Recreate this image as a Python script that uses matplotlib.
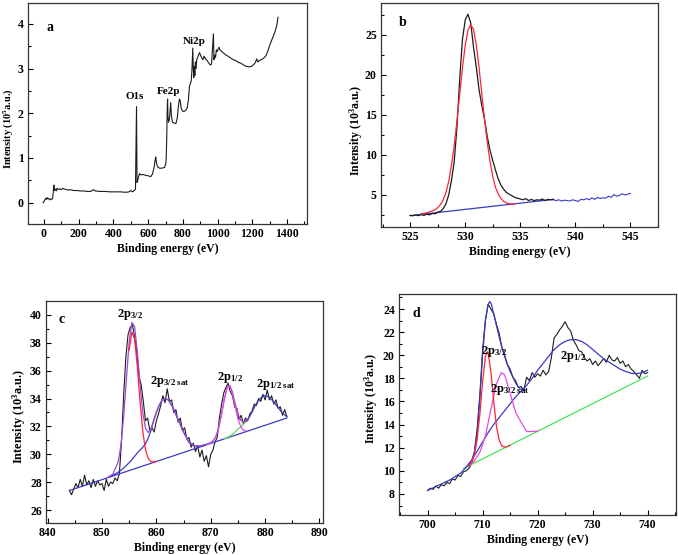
import numpy as np
import matplotlib
matplotlib.use("Agg")
import matplotlib.pyplot as plt
from matplotlib.ticker import MultipleLocator

# -----------------------------------
# FONTS
# -----------------------------------
plt.rcParams['font.family'] = ['Liberation Serif', 'DejaVu Serif']
plt.rcParams['font.weight'] = 'bold'
plt.rcParams['axes.labelweight'] = 'bold'
plt.rcParams['mathtext.fontset'] = 'custom'
plt.rcParams['mathtext.rm'] = 'Liberation Serif:bold'
plt.rcParams['mathtext.it'] = 'Liberation Serif:bold'
plt.rcParams['mathtext.bf'] = 'Liberation Serif:bold'

# -----------------------------------
# (a) SURVEY SPECTRUM  (10^5 a.u.)
# -----------------------------------
a_x = [-5, 0, 5, 10, 15, 20, 25, 30, 35, 40, 45, 50, 54, 57, 60, 65, 70, 75, 80, 90,
       100, 110, 120, 130, 140, 150, 170, 190, 210, 230, 250, 270, 285, 295, 320, 350,
       380, 410, 440, 470, 490, 500, 510, 520, 527, 530, 533, 536, 540, 545, 550, 555,
       560, 570, 585, 600, 615, 625, 635, 640, 644, 648, 655, 665, 680, 695, 703, 707,
       710, 712, 714, 717, 722, 726, 730, 734, 740, 750, 760, 768, 774, 780, 785, 790,
       797, 805, 815, 825, 832, 838, 843, 848, 852, 855, 857, 860, 863, 866, 869, 872,
       876, 880, 885, 890, 896, 902, 908, 915, 922, 930, 940, 950, 958, 965, 970, 973,
       976, 979, 983, 988, 993, 998, 1003, 1008, 1013, 1020, 1030, 1040, 1050, 1060,
       1075, 1090, 1105, 1120, 1135, 1150, 1165, 1180, 1195, 1210, 1218, 1225, 1232,
       1240, 1250, 1260, 1270, 1280, 1290, 1300, 1310, 1320, 1330, 1340, 1348]
a_y = [0.00, 0.02, 0.06, 0.10, 0.07, 0.11, 0.08, 0.09, 0.06, 0.08, 0.07, 0.10, 0.25, 0.39,
       0.27, 0.30, 0.26, 0.32, 0.29, 0.31, 0.29, 0.32, 0.30, 0.29, 0.28, 0.29, 0.27, 0.27,
       0.26, 0.26, 0.25, 0.25, 0.29, 0.26, 0.25, 0.25, 0.24, 0.24, 0.24, 0.23, 0.24, 0.27,
       0.24, 0.27, 0.30, 1.20, 2.15, 0.45, 0.50, 0.58, 0.65, 0.63, 0.62, 0.63, 0.61, 0.60,
       0.58, 0.64, 0.80, 0.95, 1.02, 0.88, 0.80, 0.77, 0.77, 0.79, 0.90, 1.40, 2.10, 2.32,
       1.95, 1.80, 1.85, 2.05, 2.24, 1.95, 1.80, 1.78, 1.77, 1.90, 2.15, 2.32, 2.28, 2.12,
       2.05, 2.04, 2.06, 2.12, 2.30, 2.60, 2.66, 2.72, 2.95, 3.30, 3.46, 3.00, 2.80, 3.05,
       2.85, 3.15, 3.00, 3.20, 3.25, 3.30, 3.36, 3.30, 3.25, 3.20, 3.28, 3.22, 3.18, 3.12,
       3.08, 3.10, 3.40, 3.60, 3.78, 3.20, 3.30, 3.25, 3.42, 3.38, 3.44, 3.48, 3.42, 3.40,
       3.36, 3.33, 3.30, 3.28, 3.24, 3.20, 3.18, 3.14, 3.12, 3.08, 3.05, 3.04, 3.05, 3.10,
       3.14, 3.22, 3.15, 3.18, 3.20, 3.22, 3.25, 3.30, 3.40, 3.52, 3.62, 3.72, 3.82, 3.95,
       4.15]
a_peaks = ["O1s", "Fe2p", "Ni2p"]
a_peak_x = [524, 716, 866]
a_peak_y = [2.38, 2.49, 3.61]

# -----------------------------------
# (b) O1s  (10^3 a.u.)
# -----------------------------------
b_data = [2.45, 2.40, 2.50, 2.42, 2.55, 2.45, 2.60, 2.52, 2.70, 2.65, 2.85, 2.95,
          3.30, 3.90, 5.00, 6.80, 9.20, 13.50, 19.50, 24.50, 26.90, 27.60, 26.50, 23.50,
          21.00, 18.20, 16.20, 14.50, 12.30, 10.60, 9.30, 8.10, 7.00, 6.20, 5.70, 5.30,
          5.10, 4.90, 4.70, 4.60, 4.50, 4.40, 4.55, 4.30, 4.45, 4.30, 4.40, 4.35,
          4.50, 4.30, 4.45, 4.40, 4.45]                      # 525 -> 538 eV
b_tail = [4.40, 4.30, 4.40, 4.25, 4.35, 4.30, 4.25, 4.40, 4.30, 4.20, 4.45, 4.40,
          4.55, 4.40, 4.65, 4.45, 4.70, 4.55, 4.65, 4.60, 4.85, 4.70, 5.05, 4.85,
          4.95, 5.15, 5.00, 5.10, 5.20]                      # 538 -> 545 eV
b_fit = [2.65, 2.70, 2.78, 2.88, 3.00, 3.15, 3.40, 3.80, 4.40, 5.30, 6.70, 8.70,
         11.20, 14.30, 17.60, 20.90, 23.70, 25.60, 26.30, 25.70, 23.80, 21.00, 17.70,
         14.50, 11.60, 9.20, 7.30, 5.95, 5.10, 4.55, 4.20, 4.00, 3.90, 3.88, 3.90]  # 526 -> 534.5 eV
b_bg_x = [525, 538]
b_bg_y = [2.42, 4.45]

# -----------------------------------
# (c) Ni2p  (10^3 a.u.)
# -----------------------------------
c_data = [27.4, 27.1, 27.5, 27.9, 27.6, 28.2, 27.7, 28.5, 27.8, 28.1, 27.6, 28.2, 27.7,
          28.1, 27.8, 27.9, 27.4, 28.2, 27.7, 28.0, 27.9, 28.3, 28.1, 28.6, 31.0, 34.3,
          37.0, 38.6, 39.1, 39.3, 38.4, 37.3, 35.6, 35.0, 33.8, 32.4, 32.6, 31.7, 31.9,
          31.6, 32.4, 32.9, 33.5, 34.2, 33.7, 34.7, 33.8, 33.9, 33.0, 33.2, 32.3, 32.6,
          31.7, 31.9, 31.1, 31.2, 30.5, 30.8, 30.2, 30.6, 29.8, 30.3, 29.5, 29.9, 29.1,
          30.0, 30.3, 30.9, 31.2, 32.6, 33.6, 34.4, 34.8, 35.1, 34.5, 34.2, 33.4, 33.3,
          32.5, 32.8, 32.2, 32.6, 32.4, 32.9, 33.1, 33.6, 33.5, 34.0, 33.8, 34.3, 33.9,
          34.6, 33.9, 34.2, 33.6, 33.9, 33.3, 33.4, 32.8, 33.2, 32.7]   # 844 -> 884 eV
c_env_x = [851, 852, 853, 853.5, 854, 854.5, 855, 855.5, 856, 856.5, 857, 857.5, 858,
           858.5, 859, 859.5, 860, 860.5, 861, 861.6, 862.2, 863, 864, 865, 866, 867,
           868, 869, 869.5, 870, 870.5, 871, 871.5, 872, 872.5, 873, 873.5, 874, 874.5,
           875, 875.5, 876, 876.5, 877]
c_env_y = [28.33, 28.57, 29.47, 30.7, 32.76, 35.45, 38.03, 39.46, 39.16, 37.38, 35.0,
           33.01, 31.86, 31.56, 31.82, 32.43, 33.01, 33.5, 33.85, 34.0, 33.9, 33.4, 32.5,
           31.6, 30.87, 30.62, 30.6, 30.7, 30.76, 30.84, 31.0, 31.33, 31.97, 32.9, 33.96,
           34.77, 34.94, 34.47, 33.64, 32.92, 32.45, 32.33, 32.4, 32.6]
c_p32_x = [855.0, 855.5, 856.0, 856.5, 857.0, 857.5, 858.0, 858.5, 859.0, 859.5, 860.0]
c_p32_y = [37.47, 38.76, 38.28, 36.31, 33.8, 31.67, 30.33, 29.7, 29.47, 29.45, 29.49]
c_sat32_x = [851.5, 852.5, 853.5, 854.5, 855.5, 856.5, 857.5, 858.0, 858.5, 859.0, 859.5,
             860.0, 860.5, 861.0, 861.6, 862.2, 863, 864, 865, 866, 867, 868, 869]
c_sat32_y = [28.4, 28.6, 28.85, 29.2, 29.6, 30.1, 30.5, 30.75, 31.15, 31.7, 32.4, 33.0,
             33.5, 33.85, 34.0, 33.9, 33.4, 32.5, 31.6, 30.85, 30.6, 30.55, 30.65]
c_p12_x = [869.5, 870, 870.5, 871, 871.5, 872, 872.5, 873, 873.3, 873.5, 874, 874.5,
           875, 875.5, 876, 876.5]
c_p12_y = [30.73, 30.82, 30.99, 31.32, 31.95, 32.88, 33.94, 34.74, 34.91, 34.88, 34.32,
           33.41, 32.55, 32.0, 31.74, 31.68]
c_sat12_x = [872.5, 873, 873.5, 874, 874.5, 875, 875.5, 876, 876.5, 877, 877.5, 878,
             878.5, 879, 879.5, 880, 880.5, 881, 881.5, 882, 882.5, 883, 883.5, 884]
c_sat12_y = [31.12, 31.2, 31.3, 31.45, 31.6, 31.8, 31.95, 32.15, 32.35, 32.6, 32.95,
             33.35, 33.7, 33.95, 34.15, 34.2, 34.15, 34.0, 33.8, 33.55, 33.3, 33.05,
             32.85, 32.7]
c_bg_x = [844, 884]
c_bg_y = [27.4, 32.6]
c_labels = ["2p$_{3/2}$", "2p$_{3/2\\ \\mathrm{sat}}$", "2p$_{1/2}$", "2p$_{1/2\\ \\mathrm{sat}}$"]
c_label_x = [855.2, 862.5, 873.6, 881.9]
c_label_y = [40.0, 35.2, 35.5, 35.0]

# -----------------------------------
# (d) Fe2p  (10^3 a.u.)
# -----------------------------------
d_data = [8.3, 8.5, 8.4, 8.7, 8.5, 8.8, 8.7, 9.0, 8.9, 9.3, 9.2, 9.6, 9.5, 9.9, 10.0,
          10.2, 10.6, 11.6, 13.6, 16.6, 20.5, 23.0, 24.4, 24.0, 23.6, 22.7, 21.9, 20.7,
          20.0, 19.2, 18.8, 18.1, 17.8, 17.2, 17.3, 17.0, 18.1, 17.8, 18.5, 18.1, 18.4,
          18.2, 18.7, 18.3, 18.6, 19.8, 21.5, 21.8, 22.2, 22.5, 22.9, 22.4, 22.1, 21.3,
          20.9, 20.4, 20.3, 19.8, 19.5, 19.7, 19.2, 19.5, 19.1, 19.4, 19.7, 19.4, 20.0,
          19.6, 19.5, 19.8, 19.3, 19.5, 19.0, 19.2, 18.8, 18.6, 18.3, 18.0, 18.7, 18.4,
          18.5]                                               # 700 -> 740 eV
d_env_x = [700, 702, 704, 706, 707, 708, 708.5, 709, 709.5, 710, 710.5, 711, 711.3,
           711.6, 712, 712.5, 713, 713.5, 714, 714.5, 715, 715.5, 716, 716.5, 717,
           717.5, 718, 719, 720, 721, 722, 723, 724, 725, 726, 727, 728, 729, 730, 731,
           732, 733, 734, 735, 736, 737, 738, 739, 740]
d_env_y = [8.3, 8.75, 9.2, 9.8, 10.3, 10.9, 11.6, 13.2, 16.2, 20.0, 23.0, 24.4, 24.65,
           24.4, 23.6, 22.6, 21.6, 20.7, 19.9, 19.2, 18.6, 18.1, 17.6, 17.25, 17.05,
           17.1, 17.4, 18.0, 18.7, 19.3, 19.9, 20.5, 20.9, 21.2, 21.35, 21.35, 21.2,
           20.9, 20.5, 20.1, 19.7, 19.4, 19.1, 18.8, 18.6, 18.45, 18.4, 18.5, 18.7]
d_broad_x = [707, 708, 709, 710, 711, 712, 713, 714, 715, 716, 717, 717.5]
d_broad_y = [10.3, 10.9, 11.7, 12.5, 13.3, 14.0, 14.6, 15.2, 15.8, 16.4, 16.9, 17.1]
d_p32_x = [707.5, 708, 708.5, 709, 709.5, 710, 710.5, 710.8, 711, 711.5, 712, 712.5,
           713, 713.5, 714, 714.5, 715]
d_p32_y = [10.45, 10.75, 11.4, 12.7, 14.9, 17.7, 19.85, 20.3, 20.2, 18.6, 16.1, 13.9,
           12.65, 12.15, 12.05, 12.1, 12.2]
d_sat_x = [707.5, 708.5, 709.5, 710.5, 711.5, 712.5, 713.4, 714, 715, 716, 717, 718,
           719, 720]
d_sat_y = [10.45, 10.85, 11.6, 13.0, 15.3, 17.5, 18.5, 18.3, 16.75, 15.05, 14.2, 13.4,
           13.4, 13.45]
d_bg_x = [706.5, 740]
d_bg_y = [10.2, 18.2]
d_labels = ["2p$_{3/2}$", "2p$_{3/2\\ \\mathrm{sat}}$", "2p$_{1/2}$"]
d_label_x = [712.1, 715.0, 726.4]
d_label_y = [20.3, 17.0, 19.9]

# -----------------------------------
# COLOURS
# -----------------------------------
BLACK = "#1c1c1c"
BLUE = "#3a3ac4"
RED = "#ff2438"
PURPLE = "#9b4ad6"
MAGENTA = "#e04ce0"
GREEN = "#55e055"


def style(ax, xmaj, xmin, ymaj, ymin, ylabel, ylab_x, ylab_y, ylab_size=8.5):
    ax.xaxis.set_major_locator(MultipleLocator(xmaj))
    ax.xaxis.set_minor_locator(MultipleLocator(xmin))
    ax.yaxis.set_major_locator(MultipleLocator(ymaj))
    ax.yaxis.set_minor_locator(MultipleLocator(ymin))
    ax.tick_params(which="both", direction="in", width=0.8, labelsize=8.5, pad=3)
    ax.tick_params(which="major", length=3.5)
    ax.tick_params(which="minor", length=2)
    for s in ax.spines.values():
        s.set_linewidth(0.9)
        s.set_color("#333333")
    ax.set_xlabel("Binding energy (eV)", fontsize=8.5, labelpad=2)
    ax.set_ylabel(ylabel, fontsize=ylab_size)
    ax.yaxis.set_label_coords(ylab_x, ylab_y)
    ax.yaxis.label.set_va("center")


fig = plt.figure(figsize=(6.78, 5.55), dpi=100)

# ---------------- (a)
ax = fig.add_axes([0.0413, 0.5964, 0.4115, 0.3982])
ax.plot(a_x, a_y, color=BLACK, lw=0.8)
for t, x, y in zip(a_peaks, a_peak_x, a_peak_y):
    ax.text(x, y, t, ha="center", va="center", fontsize=8)
ax.text(35, 3.92, "a", ha="center", va="center", fontsize=10)
ax.set_xlim(-92, 1515)
ax.set_ylim(-0.48, 4.47)
style(ax, 200, 100, 1, 0.5, "Intensity (10$^5$a.u.)", -0.072, 0.43, 7.5)

# ---------------- (b)
ax = fig.add_axes([0.5619, 0.591, 0.4086, 0.4036])
ax.plot(np.linspace(538, 545, len(b_tail)), b_tail, color=BLUE, lw=0.8)
ax.plot(b_bg_x, b_bg_y, color=BLUE, lw=0.9)
ax.plot(np.linspace(525, 538, len(b_data)), b_data, color=BLACK, lw=0.9)
ax.plot(np.linspace(526, 534.5, len(b_fit)), b_fit, color=RED, lw=0.9)
ax.text(524.3, 26.6, "b", ha="center", va="center", fontsize=10)
ax.set_xlim(522.35, 547.5)
ax.set_ylim(1.0, 29.0)
style(ax, 5, 2.5, 5, 2.5, "Intensity (10$^3$a.u.)", -0.09, 0.433)

# ---------------- (c)
ax = fig.add_axes([0.0678, 0.0577, 0.4082, 0.4])
ax.plot(np.linspace(844, 884, len(c_data)), c_data, color=BLACK, lw=0.8)
ax.plot(c_bg_x, c_bg_y, color=BLUE, lw=0.9)
ax.plot(c_sat32_x, c_sat32_y, color=BLUE, lw=0.9)
ax.plot(c_sat12_x[:9], c_sat12_y[:9], color=GREEN, lw=0.9)
ax.plot(c_sat12_x[8:], c_sat12_y[8:], color=BLUE, lw=0.9)
ax.plot(c_env_x, c_env_y, color=PURPLE, lw=0.9)
ax.plot(c_p12_x, c_p12_y, color=MAGENTA, lw=0.9)
ax.plot(c_p32_x, c_p32_y, color=RED, lw=0.9)
for t, x, y in zip(c_labels, c_label_x, c_label_y):
    ax.text(x, y, t, ha="center", va="center", fontsize=9)
ax.text(842.6, 39.7, "c", ha="center", va="center", fontsize=10)
ax.set_xlim(839.7, 890.6)
ax.set_ylim(25.07, 41.0)
style(ax, 10, 5, 2, 1, "Intensity (10$^3$a.u.)", -0.0975, 0.48, 8.8)

# ---------------- (d)
ax = fig.add_axes([0.5885, 0.0721, 0.4081, 0.3982])
ax.plot(np.linspace(700, 740, len(d_data)), d_data, color=BLACK, lw=0.8)
ax.plot(d_bg_x, d_bg_y, color=GREEN, lw=0.9)
ax.plot(d_env_x, d_env_y, color=BLUE, lw=0.9)
ax.plot(d_broad_x, d_broad_y, color=BLUE, lw=0.9)
ax.plot(d_sat_x, d_sat_y, color=MAGENTA, lw=0.9)
ax.plot(d_p32_x, d_p32_y, color=RED, lw=0.9)
for t, x, y in zip(d_labels, d_label_x, d_label_y):
    ax.text(x, y, t, ha="center", va="center", fontsize=9)
ax.text(698.0, 23.6, "d", ha="center", va="center", fontsize=10)
ax.set_xlim(694.8, 745.1)
ax.set_ylim(6.18, 25.3)
style(ax, 10, 5, 2, 1, "Intensity (10$^3$a.u.)", -0.1, 0.53)

fig.savefig("out.png", dpi=100)
